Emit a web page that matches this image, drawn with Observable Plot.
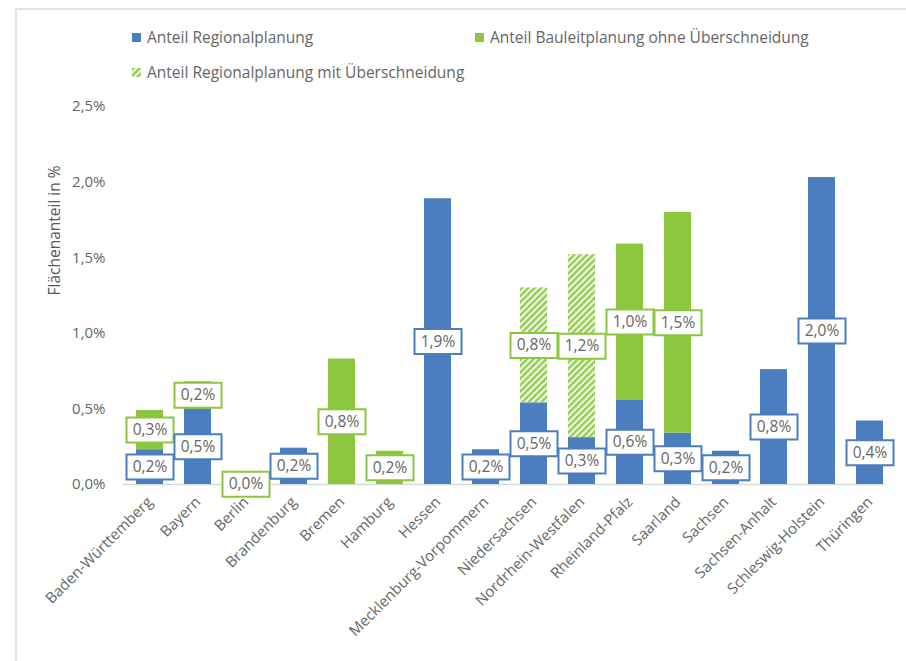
<!DOCTYPE html>
<html>
<head>
<meta charset="utf-8">
<script src="https://cdn.jsdelivr.net/npm/d3@7"></script>
<script src="https://cdn.jsdelivr.net/npm/@observablehq/plot@0.6"></script>
<style>
  html, body { margin: 0; padding: 0; background: #fff; }
  #wrap { position: relative; width: 906px; height: 661px; overflow: hidden; font-family: "Open Sans", sans-serif; }
  #frame { position: absolute; left: 15px; top: 8px; right: 0; bottom: 0; border-top: 2px solid #e2e2e2; border-left: 2px solid #e2e2e2; pointer-events: none; }
  .leg { position: absolute; display: flex; align-items: center; font-size: 15.5px; color: #666; white-space: nowrap; }
  .sw { width: 9px; height: 9px; margin-right: 6px; display: inline-block; }
  #chart { position: absolute; left: 0; top: 0; }
</style>
</head>
<body>
<div id="wrap">
  <div id="chart"></div>
  <div id="frame"></div>
  <div class="leg" style="left:132px; top:26px;"><span class="sw" style="background:#4a7ebf"></span>Anteil Regionalplanung</div>
  <div class="leg" style="left:475px; top:26px;"><span class="sw" style="background:#8cc63f"></span>Anteil Bauleitplanung ohne Überschneidung</div>
  <div class="leg" style="left:132px; top:61px;"><svg class="sw" width="9" height="9" viewBox="0 0 9 9"><rect width="9" height="9" fill="url(#hatch)"/></svg>Anteil Regionalplanung mit Überschneidung</div>
</div>
<script>
const categories = ["Baden-Württemberg","Bayern","Berlin","Brandenburg","Bremen","Hamburg","Hessen","Mecklenburg-Vorpommern","Niedersachsen","Nordrhein-Westfalen","Rheinland-Pfalz","Saarland","Sachsen","Sachsen-Anhalt","Schleswig-Holstein","Thüringen"];
const regional        = [0.23, 0.50, null, 0.24, null, null, 1.89, 0.23, 0.54, 0.31, 0.56, 0.34, 0.22, 0.76, 2.03, 0.42];
const bauleit         = [0.26, 0.18, 0.003, null, 0.83, 0.22, null, null, null, null, 1.03, 1.46, null, null, null, null];
const ueberschneidung = [null, null, null, null, null, null, null, null, 0.76, 1.21, null, null, null, null, null, null];
const seriesNames = ["Anteil Regionalplanung", "Anteil Bauleitplanung ohne Überschneidung", "Anteil Regionalplanung mit Überschneidung"];
const yTicks = [0, 0.5, 1, 1.5, 2, 2.5];

const BLUE = "#4a7ebf", GREEN = "#8cc63f";
const fmt = v => v.toFixed(1).replace(".", ",") + "%";

// stack segments per category
const rows = [];
categories.forEach((cat, i) => {
  let cum = 0;
  [regional, bauleit, ueberschneidung].forEach((arr, s) => {
    const v = arr[i];
    if (v == null) return;
    rows.push({cat, series: seriesNames[s], v, y1: cum, y2: cum + v, mid: cum + v / 2});
    cum += v;
  });
});
const bySeries = s => rows.filter(d => d.series === seriesNames[s]);
const box = {draw(ctx) { ctx.rect(-23.5, -12.5, 47, 25); }};

const plot = Plot.plot({
  width: 906,
  height: 661,
  marginTop: 106,
  marginBottom: 177,
  marginLeft: 123,
  marginRight: 10,
  style: {fontFamily: "Open Sans, sans-serif", fontSize: "15px", color: "#666", background: "transparent"},
  x: {domain: categories, paddingInner: 0.44, paddingOuter: 0.22, tickSize: 0, tickPadding: 15, tickRotate: -45, label: null},
  y: {domain: [0, 2.5], ticks: yTicks, tickFormat: fmt, tickSize: 0, tickPadding: 18, label: null},
  marks: [
    Plot.ruleY([0], {stroke: "#d9d9d9", strokeWidth: 1.5, insetRight: 11}),
    Plot.barY(bySeries(0), {x: "cat", y1: "y1", y2: "y2", fill: BLUE}),
    Plot.barY(bySeries(1), {x: "cat", y1: "y1", y2: "y2", fill: GREEN}),
    Plot.barY(bySeries(2), {x: "cat", y1: "y1", y2: "y2", fill: "url(#hatch)"}),
    Plot.dot(rows, {x: "cat", y: "mid", symbol: box, fill: "white", stroke: d => d.series === seriesNames[0] ? BLUE : GREEN, strokeWidth: 2}),
    Plot.text(rows, {x: "cat", y: "mid", text: d => fmt(d.v), fill: "#666", fontSize: 15.5}),
    Plot.text(["Flächenanteil in %"], {frameAnchor: "left", dx: -68, rotate: -90, fontSize: 15.5, fill: "#595959"})
  ]
});

const svg = d3.select(plot);
const pat = svg.insert("defs", ":first-child")
  .append("pattern").attr("id", "hatch").attr("patternUnits", "userSpaceOnUse")
  .attr("width", 4.5).attr("height", 4.5).attr("patternTransform", "rotate(45)");
pat.append("rect").attr("width", 4.5).attr("height", 4.5).attr("fill", "#eef7e2");
pat.append("rect").attr("width", 2.3).attr("height", 4.5).attr("fill", "#93ca4f");

document.getElementById("chart").appendChild(plot);
</script>
</body>
</html>
